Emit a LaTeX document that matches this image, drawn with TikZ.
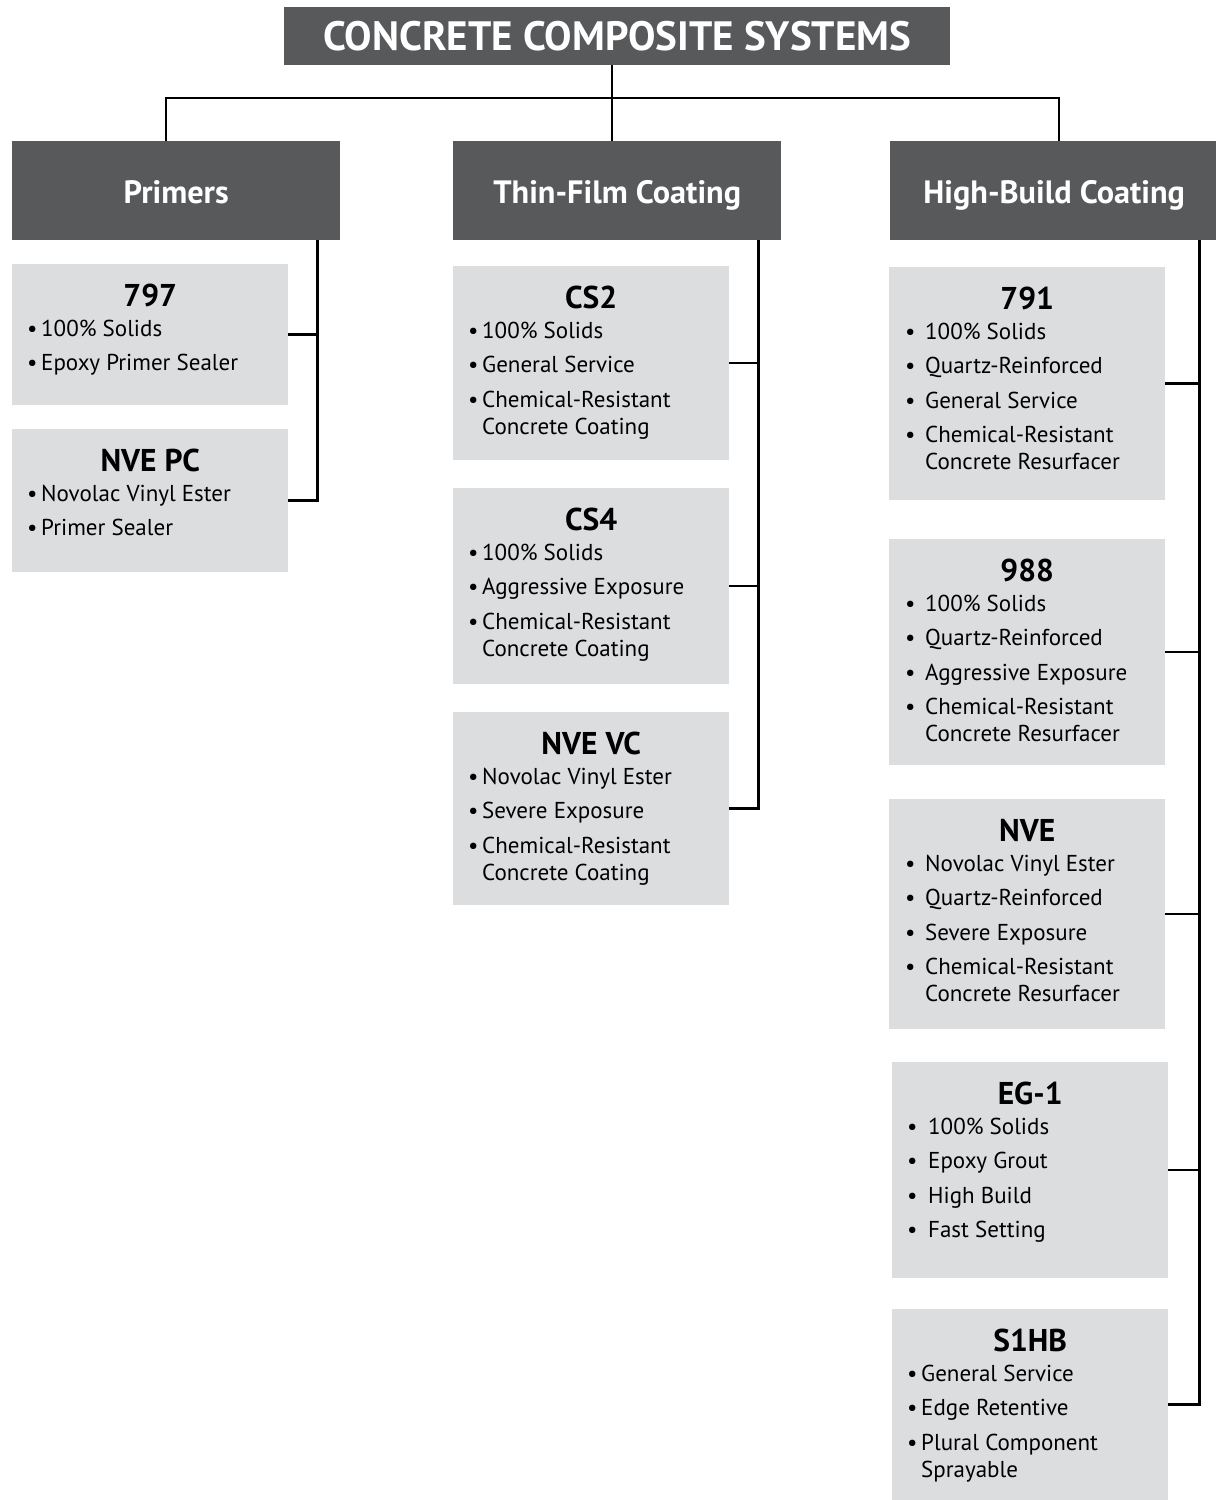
\documentclass[tikz,border=0pt]{standalone}
\usepackage{fontspec}
\setmainfont{PT Sans}
\usepackage{tikz}
\usetikzlibrary{positioning,calc}

\definecolor{darkgr}{HTML}{58595B}
\definecolor{lightgr}{HTML}{DCDDDF}

\newcommand{\bul}[1][18pt]{\makebox[#1][c]{•}}
\newcommand{\cnt}[1][18pt]{\hspace*{#1}}

\tikzset{
  topbox/.style={fill=darkgr, text=white, font=\fontsize{41}{44}\selectfont\bfseries,
    minimum width=666pt, minimum height=58pt, inner sep=0pt, anchor=north west},
  catbox/.style={fill=darkgr, text=white, font=\fontsize{32.3}{36}\selectfont\bfseries,
    text height=26pt, text depth=0pt,
    minimum width=328pt, minimum height=99pt, inner sep=0pt, anchor=north west},
  prodbox/.style={fill=lightgr, minimum width=276pt, inner sep=0pt, anchor=north west},
  prodname/.style={font=\fontsize{31.5}{34}\selectfont\bfseries, anchor=base, inner sep=0pt},
  prodlist/.style={font=\fontsize{23}{27}\selectfont, align=left, anchor=north west, inner sep=0pt},
  link/.style={line width=2.5pt, line join=miter}
}

\begin{document}
\begin{tikzpicture}[x=1pt,y=-1pt]
\useasboundingbox (0,0) rectangle (1216,1500);

% heading and the three groups
\node[topbox] (top) at (284,7) {CONCRETE COMPOSITE SYSTEMS};
\node[catbox] (pri) at (12,141) {Primers};
\node[catbox] (thin) at (453,141) {Thin-Film Coating};
\node[catbox] (high) at (890,141) {High-Build Coating};

\coordinate (hub) at (612,98);
\coordinate (lft) at (166,98);
\coordinate (rgt) at (1059,98);
\draw[link] (top.south -| hub) -- (thin.north -| hub);
\draw[link] (pri.north -| lft) -- (lft) -- (rgt) -- (high.north -| rgt);

% primers
\node[prodbox, minimum height=141pt] (p797) at (12,264) {};
\node[prodname] (p797-t) at ([yshift=-42pt]p797.north) {797};
\node[prodlist] (p797-l) at ([xshift=11pt,yshift=-53pt]p797.north west)
  {\strut\bul 100\% Solids\\[7.5pt]\bul Epoxy Primer Sealer};

\node[prodbox, minimum height=143pt] (pnvepc) at (12,429) {};
\node[prodname] (pnvepc-t) at ([yshift=-42pt]pnvepc.north) {NVE PC};
\node[prodlist] (pnvepc-l) at ([xshift=11pt,yshift=-53pt]pnvepc.north west)
  {\strut\bul Novolac Vinyl Ester\\[7.5pt]\bul Primer Sealer};

% thin-film coating
\node[prodbox, minimum height=194pt] (tcs2) at (453,266) {};
\node[prodname] (tcs2-t) at ([yshift=-42pt]tcs2.north) {CS2};
\node[prodlist] (tcs2-l) at ([xshift=11pt,yshift=-53pt]tcs2.north west)
  {\strut\bul 100\% Solids\\[7.5pt]\bul General Service\\[7.5pt]\bul Chemical-Resistant\\\cnt Concrete Coating};

\node[prodbox, minimum height=196pt] (tcs4) at (453,488) {};
\node[prodname] (tcs4-t) at ([yshift=-42pt]tcs4.north) {CS4};
\node[prodlist] (tcs4-l) at ([xshift=11pt,yshift=-53pt]tcs4.north west)
  {\strut\bul 100\% Solids\\[7.5pt]\bul Aggressive Exposure\\[7.5pt]\bul Chemical-Resistant\\\cnt Concrete Coating};

\node[prodbox, minimum height=193pt] (tnvevc) at (453,712) {};
\node[prodname] (tnvevc-t) at ([yshift=-42pt]tnvevc.north) {NVE VC};
\node[prodlist] (tnvevc-l) at ([xshift=11pt,yshift=-53pt]tnvevc.north west)
  {\strut\bul Novolac Vinyl Ester\\[7.5pt]\bul Severe Exposure\\[7.5pt]\bul Chemical-Resistant\\\cnt Concrete Coating};

% high-build coating
\node[prodbox, minimum height=233pt] (h791) at (889,267) {};
\node[prodname] (h791-t) at ([yshift=-42pt]h791.north) {791};
\node[prodlist] (h791-l) at ([xshift=6pt,yshift=-53pt]h791.north west)
  {\strut\bul[30pt]100\% Solids\\[7.5pt]\bul[30pt]Quartz-Reinforced\\[7.5pt]\bul[30pt]General Service\\[7.5pt]\bul[30pt]Chemical-Resistant\\\cnt[30pt]Concrete Resurfacer};

\node[prodbox, minimum height=226pt] (h988) at (889,539) {};
\node[prodname] (h988-t) at ([yshift=-42pt]h988.north) {988};
\node[prodlist] (h988-l) at ([xshift=6pt,yshift=-53pt]h988.north west)
  {\strut\bul[30pt]100\% Solids\\[7.5pt]\bul[30pt]Quartz-Reinforced\\[7.5pt]\bul[30pt]Aggressive Exposure\\[7.5pt]\bul[30pt]Chemical-Resistant\\\cnt[30pt]Concrete Resurfacer};

\node[prodbox, minimum height=230pt] (hnve) at (889,799) {};
\node[prodname] (hnve-t) at ([yshift=-42pt]hnve.north) {NVE};
\node[prodlist] (hnve-l) at ([xshift=6pt,yshift=-53pt]hnve.north west)
  {\strut\bul[30pt]Novolac Vinyl Ester\\[7.5pt]\bul[30pt]Quartz-Reinforced\\[7.5pt]\bul[30pt]Severe Exposure\\[7.5pt]\bul[30pt]Chemical-Resistant\\\cnt[30pt]Concrete Resurfacer};

\node[prodbox, minimum height=216pt] (heg1) at (892,1062) {};
\node[prodname] (heg1-t) at ([yshift=-42pt]heg1.north) {EG-1};
\node[prodlist] (heg1-l) at ([xshift=4pt,yshift=-53pt]heg1.north west)
  {\strut\bul[32pt]100\% Solids\\[7.5pt]\bul[32pt]Epoxy Grout\\[7.5pt]\bul[32pt]High Build\\[7.5pt]\bul[32pt]Fast Setting};

\node[prodbox, minimum height=191pt] (hs1hb) at (892,1309) {};
\node[prodname] (hs1hb-t) at ([yshift=-42pt]hs1hb.north) {S1HB};
\node[prodlist] (hs1hb-l) at ([xshift=11pt,yshift=-53pt]hs1hb.north west)
  {\strut\bul General Service\\[7.5pt]\bul Edge Retentive\\[7.5pt]\bul Plural Component\\\cnt Sprayable};

% brackets
\coordinate (pribar) at ([xshift=-23pt]pri.south east);
\coordinate (thinbar) at ([xshift=-23pt]thin.south east);
\coordinate (highbar) at ([xshift=-19pt]high.south east);
\draw[link] (pribar) |- (pnvepc.east);
\draw[link] (thinbar) |- (tnvevc.east);
\draw[link] (highbar) |- (hs1hb.east);
\foreach \p in {p797}
  \draw[link] (\p.east) -- (\p.east -| pribar);
\foreach \p in {tcs2,tcs4}
  \draw[link] (\p.east) -- (\p.east -| thinbar);
\foreach \p in {h791,h988,hnve,heg1}
  \draw[link] (\p.east) -- (\p.east -| highbar);
\end{tikzpicture}
\end{document}
